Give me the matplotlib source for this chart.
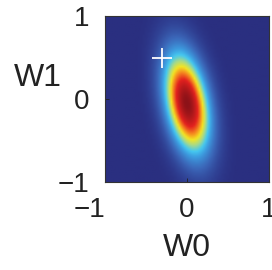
import matplotlib
matplotlib.use('Agg')
import matplotlib.pyplot as plt
from matplotlib.colors import LinearSegmentedColormap
import numpy as np

# posterior over (w0, w1)
post_mean = [0.0, -0.05]
post_cov = [[0.034, -0.026],
            [-0.026, 0.165]]
true_w = [-0.3, 0.5]
ticks = [-1, 0, 1]
tick_labels = ['\u22121', '0', '1']

# printed-looking jet
cmap = LinearSegmentedColormap.from_list('pjet', [
    (0.00, '#2a2f80'),
    (0.03, '#2e3b8e'),
    (0.14, '#3b66b8'),
    (0.27, '#3d9de0'),
    (0.35, '#45c8f0'),
    (0.45, '#a8da88'),
    (0.55, '#f3e523'),
    (0.66, '#f5861f'),
    (0.78, '#e3211f'),
    (1.00, '#8c1218'),
])

n = 100
g = np.linspace(-1, 1, n)
W0, W1 = np.meshgrid(g, g)
d = np.stack([W0 - post_mean[0], W1 - post_mean[1]], axis=-1)
inv = np.linalg.inv(np.array(post_cov))
m = np.einsum('...i,ij,...j->...', d, inv, d)
z = np.exp(-0.5 * m)

plt.rcParams['font.family'] = ['Liberation Sans', 'DejaVu Sans']
fig = plt.figure(figsize=(2.72, 2.70), dpi=100)
ax = fig.add_axes([105 / 272, 1 - 182 / 270, 164 / 272, 166 / 270])
ax.imshow(z, extent=[-1, 1, -1, 1], origin='lower', cmap=cmap,
          interpolation='bilinear', aspect='auto', vmin=0, vmax=1)
ax.plot(true_w[0], true_w[1], '+', color='white', ms=15, mew=1.3)
ax.set_xlim(-1, 1)
ax.set_ylim(-1, 1)
ax.set_xticks(ticks)
ax.set_xticklabels(tick_labels)
ax.set_yticks(ticks)
ax.set_yticklabels(tick_labels)
ax.tick_params(direction='in', length=3, width=0.6, labelsize=20,
               colors='#222222')
ax.tick_params(axis='x', pad=11)
ax.tick_params(axis='y', pad=11)
ax.get_xticklabels()[0].set_horizontalalignment('right')
for s in ax.spines.values():
    s.set_linewidth(0.8)
    s.set_color('#333333')

fig.text(38 / 272, 1 - 78 / 270, 'W1', fontsize=23, ha='center',
         va='center', color='#222222')
fig.text(187 / 272, 1 - 248 / 270, 'W0', fontsize=23, ha='center',
         va='center', color='#222222')

fig.savefig('out.png', dpi=100)
